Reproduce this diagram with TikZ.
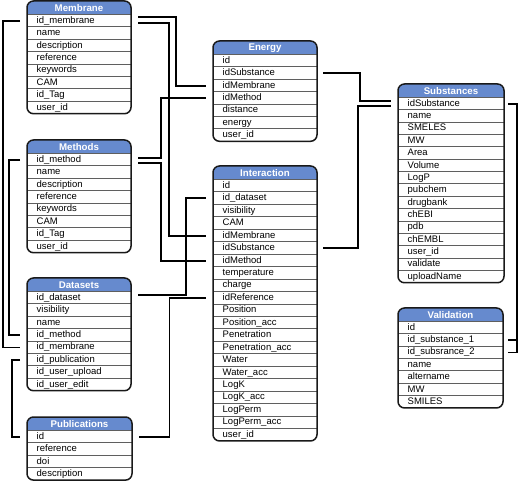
\documentclass[tikz,border=0pt]{standalone}
\usepackage{fontspec}
\setmainfont{Liberation Sans}
\definecolor{hdrblue}{RGB}{102,138,206}
\definecolor{sepgray}{RGB}{95,95,95}
\definecolor{framecol}{RGB}{25,25,25}
\tikzset{
  hdrtext/.style={font=\bfseries\fontsize{9.7}{11}\selectfont, text=white, inner sep=0pt},
  rowcell/.style={font=\fontsize{9.5}{11}\selectfont, align=left, inner xsep=9.5pt, inner ysep=0pt,
                  text height=7pt, text depth=2.2pt},
  sepline/.style={draw=sepgray, line width=0.9pt},
  tframe/.style={draw=framecol, line width=1.5pt, rounded corners=6.5pt},
  conn/.style={draw=black, line width=1.8pt}
}
\newcommand\dbtable[8]{%
  \pgfmathsetmacro\tbX{#2}%
  \pgfmathsetmacro\tbTop{#3}%
  \pgfmathsetmacro\tbW{#4}%
  \pgfmathsetmacro\tbTW{#4-19}%
  \pgfmathsetmacro\tbHB{#3+13.5}%
  \pgfmathsetmacro\tbBot{#3+13.5+#6*#7}%
  \begin{scope}
    \clip[rounded corners=6.5pt] (\tbX,\tbTop) rectangle (\tbX+\tbW,\tbBot);
    \fill[hdrblue] (\tbX,\tbTop) rectangle (\tbX+\tbW,\tbHB);
  \end{scope}
  \node[hdrtext] (#1-h) at (\tbX+\tbW/2,\tbTop+7) {#5};
  \foreach \rowtxt [count=\ri] in {#8} {
    \node[rowcell, text width=\tbTW pt, minimum height=#7pt, anchor=north west]
      (#1-\ri) at (\tbX,\tbHB+\ri*#7-#7) {\rowtxt};
    \draw[sepline] (#1-\ri.north west) -- (#1-\ri.north east);
  }
  \draw[tframe] (\tbX,\tbTop) rectangle (\tbX+\tbW,\tbBot);
}
\begin{document}
\begin{tikzpicture}[x=1pt,y=-1pt]
\useasboundingbox (0,0) rectangle (520,481);

\dbtable{mem}{27}{1}{104}{Membrane}{8}{12.4}{id\_membrane,name,description,reference,keywords,CAM,id\_Tag,user\_id}
\dbtable{meth}{27}{140}{104}{Methods}{8}{12.4}{id\_method,name,description,reference,keywords,CAM,id\_Tag,user\_id}
\dbtable{ds}{27}{278}{104}{Datasets}{8}{12.4}{id\_dataset,visibility,name,id\_method,id\_membrane,id\_publication,id\_user\_upload,id\_user\_edit}
\dbtable{pub}{27}{417}{105}{Publications}{4}{12.4}{id,reference,doi,description}
\dbtable{en}{213}{41}{104}{Energy}{7}{12.4}{id,idSubstance,idMembrane,idMethod,distance,energy,user\_id}
\dbtable{int}{213}{166}{104}{Interaction}{21}{12.45}{id,id\_dataset,visibility,CAM,idMembrane,idSubstance,idMethod,temperature,charge,idReference,Position,Position\_acc,Penetration,Penetration\_acc,Water,Water\_acc,LogK,LogK\_acc,LogPerm,LogPerm\_acc,user\_id}
\dbtable{sub}{398}{84}{106}{Substances}{15}{12.35}{idSubstance,name,SMELES,MW,Area,Volume,LogP,pubchem,drugbank,chEBI,pdb,chEMBL,user\_id,validate,uploadName}
\dbtable{val}{398}{308}{105}{Validation}{7}{12.35}{id,id\_substance\_1,id\_subsrance\_2,name,altername,MW,SMILES}

% lanes
\coordinate (lA) at (3,0);
\coordinate (lB) at (9,0);
\coordinate (lC) at (12,0);
\coordinate (lD) at (176,0);
\coordinate (lE) at (169,0);
\coordinate (lF) at (161,0);
\coordinate (lG) at (186,0);
\coordinate (lH) at (169.5,0);
\coordinate (lI) at (359,0);
\coordinate (lJ) at (517,0);

% left side connectors
\coordinate (p1) at ([xshift=-7pt]mem-1.west);
\draw[conn] (p1) -| (lA |- ds-5.west) -- ([xshift=-7pt]ds-5.west);
\coordinate (p2) at ([xshift=-7pt]meth-1.west);
\draw[conn] (p2) -| (lB |- ds-4.west) -- ([xshift=-7pt]ds-4.west);
\coordinate (p3) at ([xshift=-7pt]ds-6.west);
\draw[conn] (p3) -| (lC |- pub-1.west) -- ([xshift=-7pt]pub-1.west);

% membrane right
\coordinate (m1a) at ([xshift=7pt,yshift=3.5pt]mem-1.east);
\coordinate (m1b) at ([xshift=7pt,yshift=-2.5pt]mem-1.east);
\draw[conn] (m1a) -| (lD |- en-3.west) -- ([xshift=-7pt]en-3.west);
\draw[conn] (m1b) -| (lE |- int-5.west) -- ([xshift=-7pt]int-5.west);

% methods right
\coordinate (t1a) at ([xshift=7pt,yshift=2pt]meth-1.east);
\coordinate (t1b) at ([xshift=7pt,yshift=-3pt]meth-1.east);
\draw[conn] (t1a) -| (lF |- en-4.west) -- ([xshift=-7pt]en-4.west);
\draw[conn] (t1b) -| (lF |- int-7.west) -- ([xshift=-7pt]int-7.west);

% datasets / publications right
\coordinate (d1) at ([xshift=7pt,yshift=3pt]ds-1.east);
\draw[conn] (d1) -| (lG |- int-2.west) -- ([xshift=-7pt]int-2.west);
\coordinate (q1) at ([xshift=7pt]pub-1.east);
\draw[conn] (q1) -| (lH |- int-10.west) -- ([xshift=-7pt]int-10.west);

% energy / interaction to substances
\coordinate (e2) at ([xshift=6pt]en-2.east);
\coordinate (s1a) at ([xshift=-7pt,yshift=2.5pt]sub-1.west);
\coordinate (s1b) at ([xshift=-7pt,yshift=-2.5pt]sub-1.west);
\draw[conn] (e2) -| ([xshift=1pt]lI |- s1a) -- (s1a);
\coordinate (i6) at ([xshift=6pt]int-6.east);
\draw[conn] (i6) -| ([xshift=-1pt]lI |- s1b) -- (s1b);

% substances to validation
\coordinate (s1r) at ([xshift=4pt]sub-1.east);
\draw[conn] (s1r) -| (lJ |- val-3.east) -- ([xshift=5pt]val-3.east);
\draw[conn] (lJ |- val-2.east) -- ([xshift=5pt]val-2.east);
\end{tikzpicture}
\end{document}
